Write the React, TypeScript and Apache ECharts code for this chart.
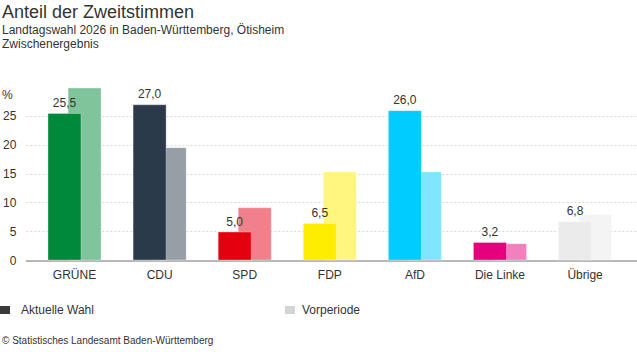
import React, { useEffect, useRef } from "react";
import * as echarts from "echarts";

const categories = ["GRÜNE", "CDU", "SPD", "FDP", "AfD", "Die Linke", "Übrige"];
const currentValues = [25.5, 27.0, 5.0, 6.5, 26.0, 3.2, 6.8];
const previousValues = [29.9, 19.6, 9.2, 15.4, 15.4, 3.0, 8.0];
const currentColors = ["#00893a", "#2b3a4a", "#e3000f", "#ffed00", "#00ccff", "#e6007e", "#ebebeb"];
const previousColors = ["#80c49c", "#979ea6", "#f1808a", "#fff680", "#80e6ff", "#f280be", "#f4f4f4"];
const yTicks = [0, 5, 10, 15, 20, 25];
const seriesNames = ["Aktuelle Wahl", "Vorperiode"];

const FONT = "'Liberation Sans', Arial, sans-serif";
const TXT = "#333333";

export default function App() {
  const ref = useRef<HTMLDivElement>(null);
  useEffect(() => {
    if (!ref.current) return;
    const chart = echarts.init(ref.current, undefined, { renderer: "svg" });
    const fmt = (v: number) => v.toFixed(1).replace(".", ",");
    chart.setOption({
      animation: false,
      textStyle: { fontFamily: FONT },
      grid: [
        { left: 22, right: 0, top: 87, height: 173.5, containLabel: false },
        { left: 32, right: 9.4, top: 87, height: 173.5, containLabel: false },
      ],
      xAxis: [
        {
          type: "value",
          gridIndex: 0,
          min: 0,
          max: 1,
          axisLine: { show: true, lineStyle: { color: "#a0a0a0", width: 1.5 } },
          axisTick: { show: false },
          axisLabel: { show: false },
          splitLine: { show: false },
        },
        {
          type: "category",
          gridIndex: 1,
          data: categories,
          axisLine: { show: false },
          axisTick: { show: false },
          axisLabel: { color: TXT, fontSize: 12, fontFamily: FONT, margin: 8 },
        },
      ],
      yAxis: [
        {
          type: "value",
          gridIndex: 0,
          min: 0,
          max: 30,
          interval: 5,
          axisLine: { show: false },
          axisTick: { show: false },
          axisLabel: {
            color: TXT,
            fontSize: 12,
            fontFamily: FONT,
            margin: 10,
            showMaxLabel: false,
            verticalAlign: "middle",
            padding: [0, 0, 8, 0],
            formatter: (v: number) => (yTicks.includes(v) ? String(v) : ""),
          },
          splitLine: {
            show: true,
            showMinLine: false,
            showMaxLine: false,
            lineStyle: { color: "#d8d8d8", type: [2, 2], width: 1 },
          },
        },
        {
          type: "value",
          gridIndex: 1,
          min: 0,
          max: 30,
          show: false,
        },
      ],
      legend: [
        {
          data: [seriesNames[0]],
          left: 0,
          top: 304,
          padding: 0,
          itemWidth: 10,
          itemHeight: 8,
          icon: "rect",
          selectedMode: false,
          textStyle: { color: TXT, fontSize: 12, fontFamily: FONT, padding: [0, 0, 0, 6] },
        },
        {
          data: [seriesNames[1]],
          left: 285,
          top: 304,
          padding: 0,
          itemWidth: 10,
          itemHeight: 8,
          icon: "rect",
          selectedMode: false,
          textStyle: { color: TXT, fontSize: 12, fontFamily: FONT, padding: [0, 0, 0, 2] },
        },
      ],
      series: [
        {
          name: seriesNames[0],
          type: "bar",
          xAxisIndex: 1,
          yAxisIndex: 1,
          z: 3,
          barWidth: 34,
          barGap: "-41%",
          itemStyle: { color: "#3a3a3a" },
          label: {
            show: true,
            position: "top",
            distance: 4,
            color: TXT,
            fontSize: 12,
            fontFamily: FONT,
            formatter: (p: any) => fmt(p.value),
          },
          data: currentValues.map((v, i) => ({
            value: v,
            itemStyle: { color: currentColors[i], borderColor: "rgba(255,255,255,0.3)", borderWidth: 1 },
          })),
        },
        {
          name: seriesNames[1],
          type: "bar",
          xAxisIndex: 1,
          yAxisIndex: 1,
          z: 2,
          barWidth: 34,
          barGap: "-41%",
          itemStyle: { color: "#d4d4d4" },
          data: previousValues.map((v, i) => ({
            value: v,
            itemStyle: { color: previousColors[i], borderColor: "rgba(255,255,255,0.3)", borderWidth: 1 },
          })),
        },
      ],
      graphic: [
        {
          type: "text",
          left: 2,
          top: 3,
          style: { text: "Anteil der Zweitstimmen", fill: TXT, fontSize: 18, fontFamily: FONT },
        },
        {
          type: "text",
          left: 2,
          top: 23,
          style: {
            text: "Landtagswahl 2026 in Baden-Württemberg, Ötisheim\nZwischenergebnis",
            fill: TXT,
            fontSize: 12,
            lineHeight: 14,
            fontFamily: FONT,
          },
        },
        {
          type: "text",
          left: 2,
          top: 89,
          style: { text: "%", fill: TXT, fontSize: 12, fontFamily: FONT },
        },
        {
          type: "text",
          left: 2,
          top: 335,
          style: { text: "© Statistisches Landesamt Baden-Württemberg", fill: TXT, fontSize: 10, fontFamily: FONT },
        },
      ],
    });
    return () => chart.dispose();
  }, []);
  return <div ref={ref} style={{ width: 637, height: 352, position: "absolute", left: 0, top: 0 }} />;
}
